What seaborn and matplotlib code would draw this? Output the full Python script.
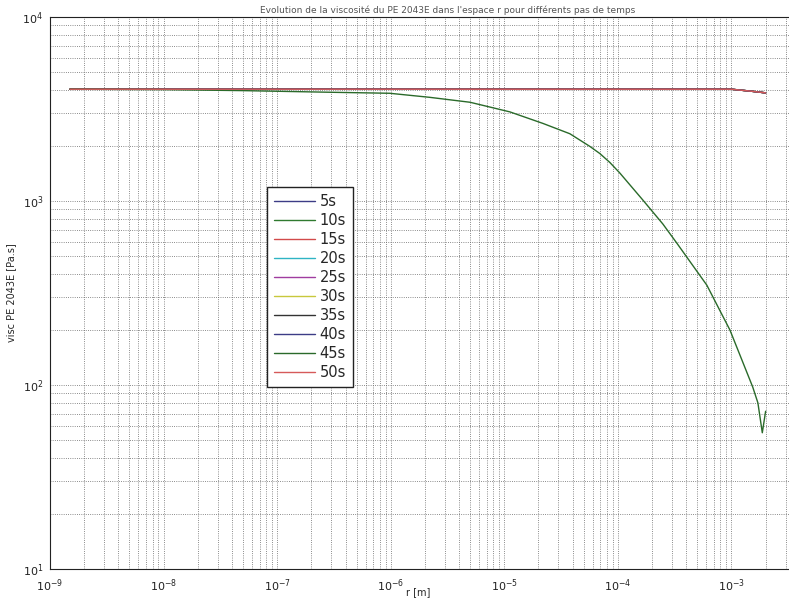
import numpy as np
import pandas as pd
import seaborn as sns
import matplotlib.pyplot as plt

# rayon [m] et viscosite [Pa.s]
r_flat = [1.5e-9, 1e-8, 1e-7, 1e-6, 1e-5, 1e-4, 1e-3, 1.5e-3, 2.0e-3]
visc_flat = [4050, 4050, 4050, 4050, 4050, 4050, 4050, 3950, 3870]

r_drop = [1.5e-9, 1e-8, 5e-8, 2.9e-7, 9.8e-7, 2.2e-6, 5e-6, 1.12e-5, 2.19e-5,
          3.78e-5, 5.67e-5, 6.95e-5, 8.5e-5, 1.04e-4, 1.66e-4, 2.49e-4, 3.3e-4,
          6.07e-4, 9.7e-4, 1.54e-3, 1.71e-3, 1.87e-3, 2.0e-3]
visc_drop = [4050, 4030, 3980, 3900, 3850, 3660, 3440, 3050, 2640,
             2320, 1980, 1810, 1620, 1420, 1012, 750, 591,
             349, 199, 97.5, 80, 55, 72]

temps = ["5s", "10s", "15s", "20s", "25s", "30s", "35s", "40s", "45s", "50s"]
couleurs = ["#3c3c86", "#2f7a2f", "#d24a4a", "#2fb4c4", "#a03ca0",
            "#c8c83c", "#333333", "#3c3c86", "#2a6a2a", "#d65a5a"]

sns.set_style("white")
plt.rcParams['font.family'] = ['DejaVu Sans']

fig = plt.figure(figsize=(7.89, 6.01), dpi=100)
ax = fig.add_axes([50/789, 32/601, 795/789, 552/601])

for t, c in zip(temps, couleurs):
    if t == "45s":
        d = pd.DataFrame({"r": r_drop, "visc": visc_drop})
    else:
        d = pd.DataFrame({"r": r_flat, "visc": visc_flat})
    sns.lineplot(data=d, x="r", y="visc", color=c, lw=1.0, label=t,
                 ax=ax, legend=False, sort=False, estimator=None)

ax.set_xscale("log")
ax.set_yscale("log")
ax.set_xlim(1e-9, 1e-2)
ax.set_ylim(1e1, 1e4)
ax.set_xticks([1e-9, 1e-8, 1e-7, 1e-6, 1e-5, 1e-4, 1e-3])

ax.grid(True, which="both", linestyle=":", color="#666666", lw=0.6)
ax.tick_params(which="both", direction="in", labelsize=8, colors="#222222")
ax.tick_params(axis="x", which="major", pad=6)
ax.tick_params(axis="y", which="major", pad=5)
ax.tick_params(which="major", length=4)
ax.tick_params(which="minor", length=2)
for s in ax.spines.values():
    s.set_color("#222222")
    s.set_linewidth(0.8)

ax.set_xlabel("r [m]", fontsize=7)
ax.xaxis.set_label_coords((418-50)/795, -0.032)
ax.set_ylabel("visc PE 2043E [Pa.s]", fontsize=7)
ax.yaxis.set_label_coords(-0.043, 0.5)
ax.set_title("Evolution de la viscosité du PE 2043E dans l'espace r pour différents pas de temps",
             fontsize=6.5, color="#555555", pad=3)

leg = ax.legend(loc="upper left", bbox_to_anchor=((267-50)/795, (569-187)/552),
                borderaxespad=0, fontsize=10.5, frameon=True, fancybox=False,
                framealpha=1, edgecolor="#222222", handlelength=2.8,
                handletextpad=0.3, labelspacing=0.27, borderpad=0.5)
leg.get_frame().set_linewidth(1.0)

fig.savefig("out.png", dpi=100)
